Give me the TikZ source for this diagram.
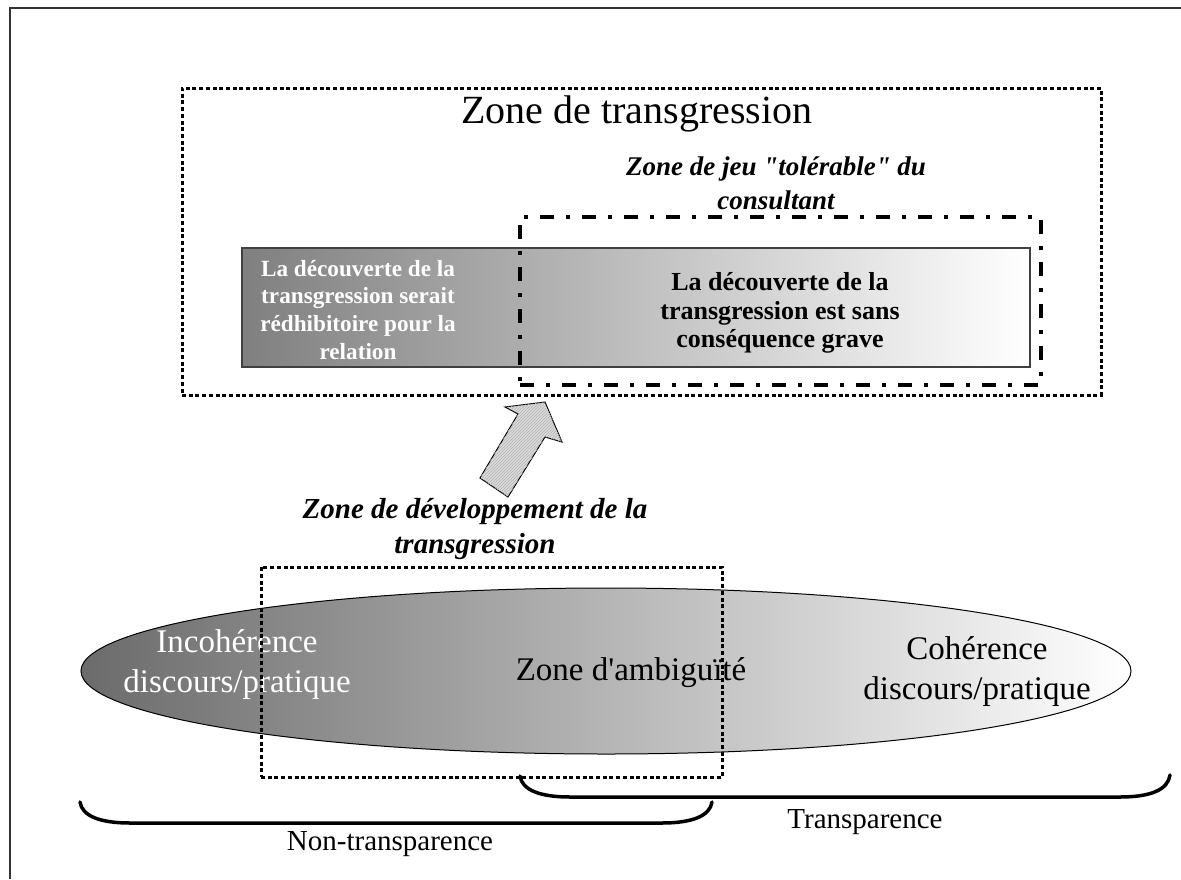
\documentclass[tikz,border=0pt]{standalone}
\usepackage{fontspec}
\setmainfont{Liberation Serif}[Ligatures=TeXOff]
\usetikzlibrary{shapes.geometric,patterns}
\begin{document}
\begin{tikzpicture}[x=1pt,y=-1pt,
  dotbox/.style={draw, line width=3pt, dash pattern=on 4pt off 2.7pt, inner sep=0},
  dashdotbox/.style={draw, line width=3.5pt, dash pattern=on 14pt off 12pt on 4pt off 12pt, inner sep=0},
  bracepath/.style={line width=3.5pt, line cap=round},
  titletext/.style={font=\fontsize{40}{48}\selectfont, inner sep=0},
  bititle/.style={font=\fontsize{27}{34}\selectfont\bfseries\itshape, align=center, inner sep=0},
  devtitle/.style={font=\fontsize{29}{35}\selectfont\bfseries\itshape, align=center, inner sep=0},
  boxtextL/.style={font=\fontsize{23.2}{27.7}\selectfont\bfseries, text=white, align=center, inner sep=0},
  boxtextR/.style={font=\fontsize{26}{28.5}\selectfont\bfseries, align=center, inner sep=0},
  elltext/.style={font=\fontsize{33}{40}\selectfont, align=center, inner sep=0},
  bracetext/.style={font=\fontsize{29}{35}\selectfont, inner sep=0}
]
\useasboundingbox (0,0) rectangle (1181,879);
\fill[white] (0,0) rectangle (1181,879);
% outer frame (only left and top edges visible)
\draw[line width=1.5pt, black!80] (10,879) -- (10,8) -- (1181,8);

% zone de transgression
\node[dotbox, minimum width=919pt, minimum height=307pt] (ztrans) at (641.5,241.5) {};
\node[titletext, anchor=base] (ztitle) at (637,123) {Zone de transgression};
\node[bititle] (jeu) at (776,183) {Zone de jeu "tolérable" du\\consultant};

% gradient box
\node[draw=black!75, line width=1.2pt, left color=black!50, right color=white,
      minimum width=788pt, minimum height=119pt, inner sep=0] (gbox) at (636,307.5) {};
\node[boxtextL] (txtL) at (358,309.7) {La découverte de la\\transgression serait\\rédhibitoire pour la\\relation};
\node[boxtextR] (txtR) at (780,313) {La découverte de la\\transgression est sans\\conséquence grave};

% zone de jeu (dash-dot)
\node[dashdotbox, minimum width=521pt, minimum height=168pt] (zjeu) at (780.5,301) {};

% block arrow
\draw[line width=1pt, fill=black!14, postaction={pattern=north east lines, pattern color=black!30}]
  (545,402) -- (562,442) -- (545,437) -- (508,497) -- (480,478) -- (518,414) -- (505,407) -- cycle;

% development zone text
\node[devtitle] (dev) at (475,529) {Zone de développement de la\\transgression};

% ellipse
\node[draw, line width=1pt, shape=ellipse, left color=black!58, right color=white,
      minimum width=1050pt, minimum height=166pt, inner sep=0] (ell) at (606,671) {};
\node[elltext, text=white] (incoh) at (237,664.8) {Incohérence\\discours/pratique};
\node[elltext, anchor=base] (ambig) at (631,680) {Zone d'ambiguïté};
\node[elltext] (coher) at (977,671.5) {Cohérence\\discours/pratique};

% dotted development box
\node[dotbox, minimum width=461pt, minimum height=210pt] (zdev) at (491.5,672) {};

% braces
\draw[bracepath] (80,802) .. controls (82,816) and (100,823) .. (130,823) -- (662,823)
   .. controls (692,823) and (710,816) .. (712,802);
\draw[bracepath] (520,776) .. controls (522,790) and (540,797) .. (570,797) -- (1120,797)
   .. controls (1150,797) and (1168,790) .. (1170,775);
\node[bracetext, anchor=base] (nontr) at (390,850) {Non-transparence};
\node[bracetext, anchor=base] (transp) at (865,828) {Transparence};
\end{tikzpicture}
\end{document}
